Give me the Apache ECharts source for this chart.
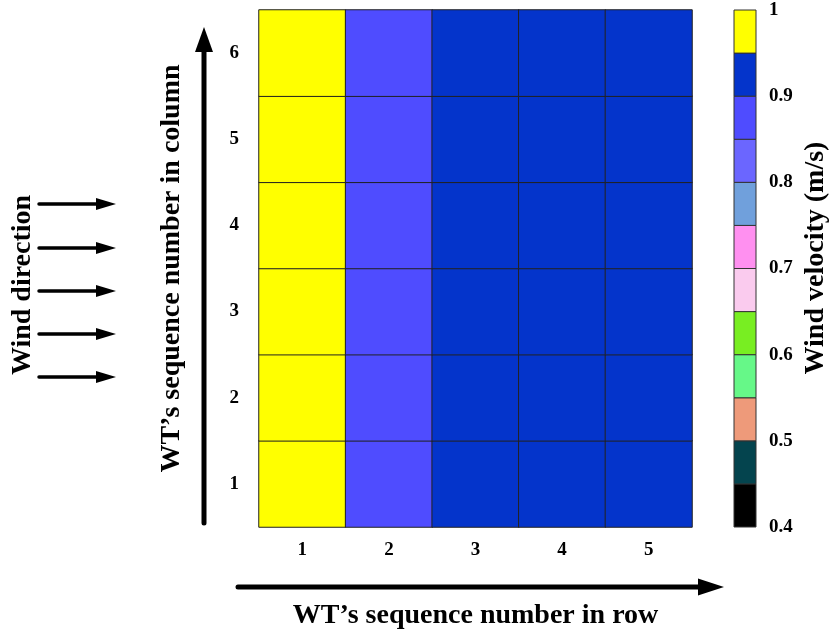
<!DOCTYPE html>
<html>
<head>
<meta charset="utf-8">
<style>
  html, body { margin: 0; padding: 0; background: #fff; }
  #chart { width: 833px; height: 634px; }
</style>
<script src="https://cdn.jsdelivr.net/npm/echarts@6/dist/echarts.min.js"></script>
</head>
<body>
<div id="chart"></div>
<script>
// turbine sequence numbers
const ROW_NUMBERS = ['1', '2', '3', '4', '5'];
const COLUMN_NUMBERS = ['1', '2', '3', '4', '5', '6'];
// wind velocity per column number (1..6), one value per row number
const VELOCITY = [
  [1.0, 0.87, 0.92, 0.92, 0.92],
  [1.0, 0.87, 0.92, 0.92, 0.92],
  [1.0, 0.87, 0.92, 0.92, 0.92],
  [1.0, 0.87, 0.92, 0.92, 0.92],
  [1.0, 0.87, 0.92, 0.92, 0.92],
  [1.0, 0.87, 0.92, 0.92, 0.92]
];
// colour bar
const BAND_EDGES = [0.4, 0.45, 0.5, 0.55, 0.6, 0.65, 0.7, 0.75, 0.8, 0.85, 0.9, 0.95, 1.0];
const BAND_COLORS = ['#000000', '#04444e', '#ee9a7a', '#66f888', '#78ee22', '#facbee',
                     '#ff90f0', '#70a0dc', '#6b66ff', '#4f4cff', '#0434cb', '#ffff00'];

const FONT = '"Liberation Serif", "Times New Roman", serif';

let heatData = [];
VELOCITY.forEach((row, j) => {
  row.forEach((v, i) => heatData.push([i, j, v]));
});

let pieces = [];
let bandData = [];
for (let k = 0; k < BAND_COLORS.length; k++) {
  pieces.push({ gte: BAND_EDGES[k], lt: BAND_EDGES[k + 1], color: BAND_COLORS[k] });
  bandData.push([BAND_EDGES[k], BAND_EDGES[k + 1], k]);
}
pieces[pieces.length - 1].lte = pieces[pieces.length - 1].lt;
delete pieces[pieces.length - 1].lt;

// arrow drawn as a thick line plus a triangle head
function arrow(x1, y1, x2, y2, w, headLen, headW) {
  let dx = x2 - x1, dy = y2 - y1;
  let len = Math.sqrt(dx * dx + dy * dy);
  let ux = dx / len, uy = dy / len;
  let bx = x2 - ux * headLen, by = y2 - uy * headLen;
  return [
    { type: 'line', shape: { x1: x1, y1: y1, x2: bx, y2: by },
      style: { stroke: '#000', lineWidth: w, lineCap: 'round' } },
    { type: 'polygon',
      shape: { points: [[x2, y2], [bx - uy * headW / 2, by + ux * headW / 2], [bx + uy * headW / 2, by - ux * headW / 2]] },
      style: { fill: '#000' } }
  ];
}

let graphics = [];
graphics = graphics.concat(arrow(204, 523, 204, 27, 5, 25, 18));
graphics = graphics.concat(arrow(238, 587, 724, 587, 5, 26, 17));
[204, 248, 291, 334, 377].forEach(y => {
  graphics = graphics.concat(arrow(39, y, 116, y, 3.5, 20, 12));
});
graphics.push({
  type: 'text', x: 23, y: 285, rotation: Math.PI / 2,
  style: { text: 'Wind direction', font: 'bold 28px ' + FONT, fill: '#000',
           align: 'center', verticalAlign: 'middle' }
});
graphics.push({
  type: 'text', x: 816, y: 258, rotation: Math.PI / 2,
  style: { text: 'Wind velocity (m/s)', font: 'bold 28px ' + FONT, fill: '#000',
           align: 'center', verticalAlign: 'middle' }
});

const chart = echarts.init(document.getElementById('chart'));
chart.setOption({
  animation: false,
  backgroundColor: '#fff',
  grid: [
    { left: 259, top: 10, width: 433, height: 517, containLabel: false, outerBoundsMode: 'none' },
    { left: 734, top: 10, width: 22, height: 517, containLabel: false, outerBoundsMode: 'none' }
  ],
  xAxis: [
    {
      type: 'category', gridIndex: 0, data: ROW_NUMBERS,
      axisLine: { show: false }, axisTick: { show: false }, splitLine: { show: false },
      axisLabel: { margin: 14, color: '#000', fontSize: 19, fontWeight: 'bold', fontFamily: FONT },
      name: 'WT’s sequence number in row', nameLocation: 'middle', nameGap: 75,
      nameTextStyle: { color: '#000', fontSize: 28, fontWeight: 'bold', fontFamily: FONT }
    },
    { type: 'value', gridIndex: 1, min: 0, max: 1, show: false }
  ],
  yAxis: [
    {
      type: 'category', gridIndex: 0, data: COLUMN_NUMBERS,
      axisLine: { show: false }, axisTick: { show: false }, splitLine: { show: false },
      axisLabel: { margin: 20, color: '#000', fontSize: 19, fontWeight: 'bold', fontFamily: FONT },
      name: 'WT’s sequence number in column', nameLocation: 'middle', nameGap: 73,
      nameTextStyle: { color: '#000', fontSize: 28, fontWeight: 'bold', fontFamily: FONT }
    },
    {
      type: 'value', gridIndex: 1, position: 'right', min: 0.4, max: 1, interval: 0.1,
      axisLine: { show: false }, axisTick: { show: false }, splitLine: { show: false },
      axisLabel: { margin: 13, color: '#000', fontSize: 19, fontWeight: 'bold', fontFamily: FONT }
    }
  ],
  visualMap: {
    type: 'piecewise', show: false, seriesIndex: 0, dimension: 2, pieces: pieces
  },
  series: [
    {
      type: 'heatmap', xAxisIndex: 0, yAxisIndex: 0, data: heatData,
      itemStyle: { borderColor: '#222', borderWidth: 1 }
    },
    {
      type: 'custom', xAxisIndex: 1, yAxisIndex: 1, data: bandData,
      renderItem: function (params, api) {
        let tl = api.coord([0, api.value(1)]);
        let br = api.coord([1, api.value(0)]);
        return {
          type: 'rect',
          shape: { x: tl[0], y: tl[1], width: br[0] - tl[0], height: br[1] - tl[1] },
          style: { fill: BAND_COLORS[api.value(2)], stroke: '#333', lineWidth: 1 }
        };
      }
    }
  ],
  graphic: graphics
});
</script>
</body>
</html>
